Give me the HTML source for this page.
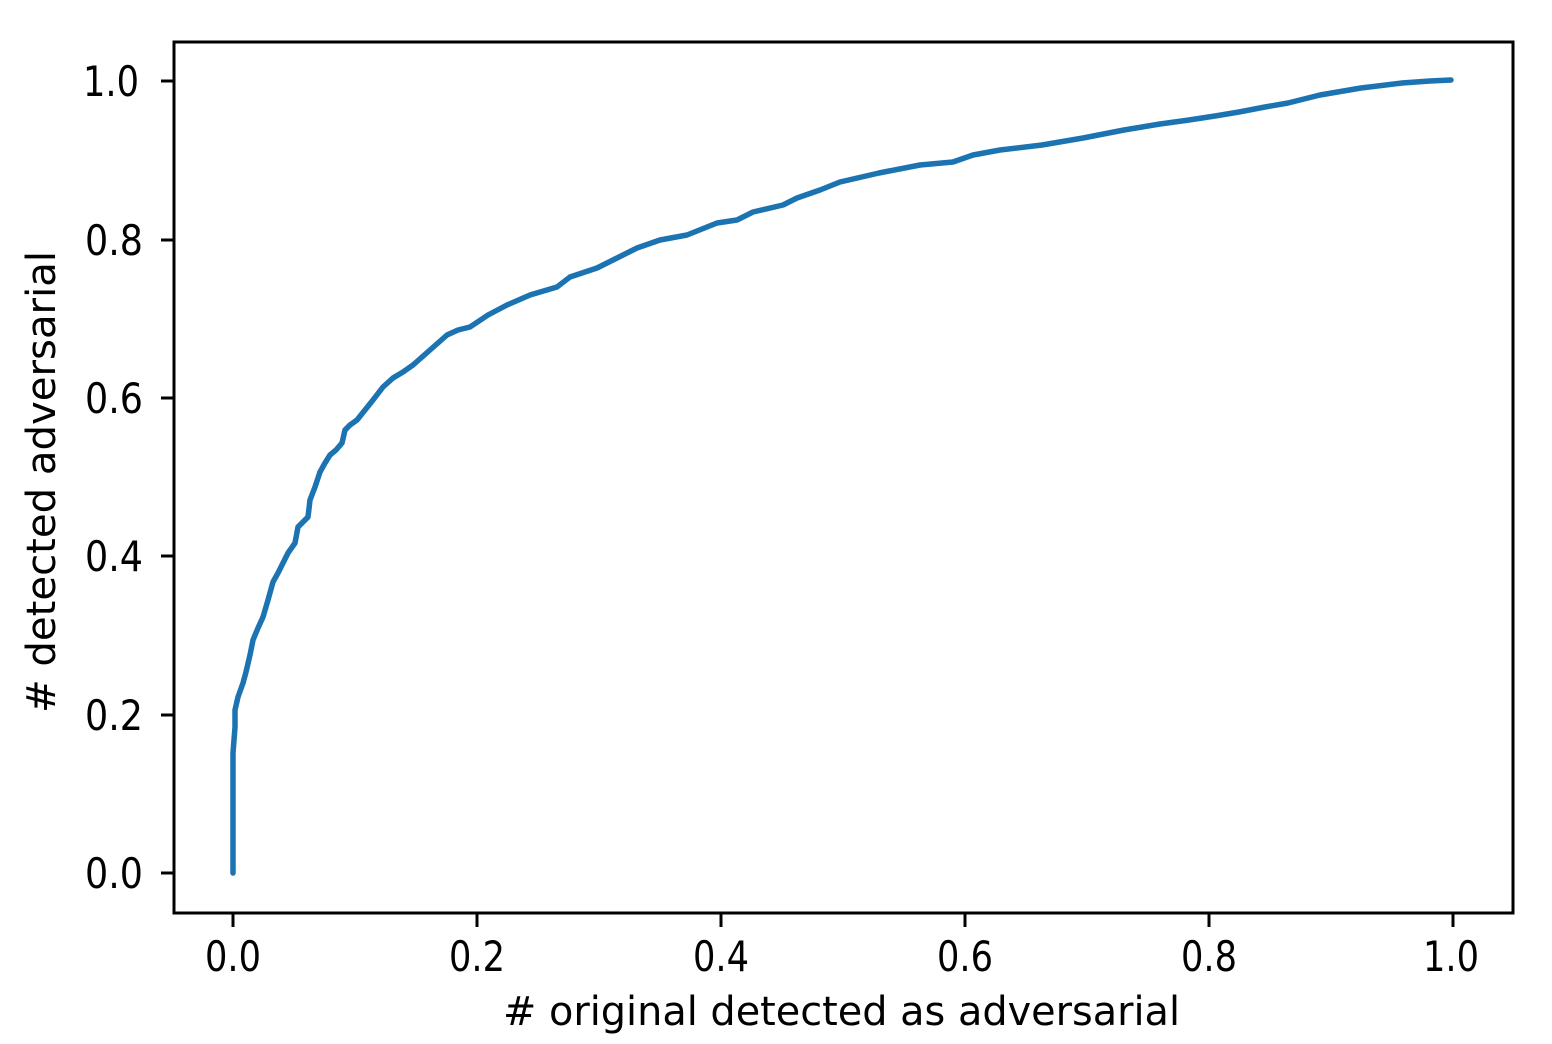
<!DOCTYPE html>
<html>
<head>
<meta charset="utf-8">
<style>
html,body{margin:0;padding:0;background:#fff;}
svg{display:block;}
text{font-family:"DejaVu Sans","Liberation Sans",sans-serif;fill:#000;}
</style>
</head>
<body>
<svg width="1552" height="1044" viewBox="0 0 1552 1044" xmlns="http://www.w3.org/2000/svg">
<rect x="0" y="0" width="1552" height="1044" fill="#fff"/>
<!-- curve -->
<polyline fill="none" stroke="#1c73b2" stroke-width="5.5" stroke-linejoin="round" stroke-linecap="round"
points="233,873 233,753 234,740 235,727 235,710 238,697 243,683 246,672 250,655 253,640 258,628 263,617 268,600 273,582 278,573 282,565 288,553 295,543 298,527 303,522 308,517 310,500 315,487 320,472 325,463 330,455 336,450 342,443 345,430 350,425 357,420 365,410 373,400 383,387 393,378 403,372 413,365 430,350 447,335 458,330 470,327 488,315 507,305 530,295 557,287 570,277 597,268 617,258 637,248 660,240 687,235 717,223 737,220 753,212 783,205 797,198 820,190 840,182 879,173 920,165 953,162 973,155 1000,150 1042,145 1083,138 1124,130 1160,124 1189,120 1215,116 1239,112 1265,107 1288,103 1320,95 1361,88 1402,83 1430,81 1451,80"/>
<!-- axes frame -->
<rect x="174" y="42" width="1339" height="871" fill="none" stroke="#000" stroke-width="3"/>
<!-- ticks -->
<g stroke="#000" stroke-width="3">
<line x1="161" y1="873" x2="174" y2="873"/>
<line x1="161" y1="715" x2="174" y2="715"/>
<line x1="161" y1="556" x2="174" y2="556"/>
<line x1="161" y1="398" x2="174" y2="398"/>
<line x1="161" y1="240" x2="174" y2="240"/>
<line x1="161" y1="81" x2="174" y2="81"/>
<line x1="233" y1="913" x2="233" y2="927"/>
<line x1="477" y1="913" x2="477" y2="927"/>
<line x1="721" y1="913" x2="721" y2="927"/>
<line x1="965" y1="913" x2="965" y2="927"/>
<line x1="1209" y1="913" x2="1209" y2="927"/>
<line x1="1453" y1="913" x2="1453" y2="927"/>
</g>
<!-- y tick labels -->
<g font-size="42">
<text x="85" y="888" textLength="58" lengthAdjust="spacingAndGlyphs">0.0</text>
<text x="85" y="730" textLength="58" lengthAdjust="spacingAndGlyphs">0.2</text>
<text x="85" y="571" textLength="58" lengthAdjust="spacingAndGlyphs">0.4</text>
<text x="85" y="413" textLength="58" lengthAdjust="spacingAndGlyphs">0.6</text>
<text x="85" y="255" textLength="58" lengthAdjust="spacingAndGlyphs">0.8</text>
<text x="83" y="96" textLength="56" lengthAdjust="spacingAndGlyphs">1.0</text>
</g>
<!-- x tick labels -->
<g font-size="42">
<text x="205" y="971" textLength="56" lengthAdjust="spacingAndGlyphs">0.0</text>
<text x="449" y="971" textLength="56" lengthAdjust="spacingAndGlyphs">0.2</text>
<text x="693" y="971" textLength="56" lengthAdjust="spacingAndGlyphs">0.4</text>
<text x="937" y="971" textLength="56" lengthAdjust="spacingAndGlyphs">0.6</text>
<text x="1181" y="971" textLength="56" lengthAdjust="spacingAndGlyphs">0.8</text>
<text x="1423" y="971" textLength="56" lengthAdjust="spacingAndGlyphs">1.0</text>
</g>
<!-- axis labels -->
<text x="503" y="1025" font-size="40" textLength="677" lengthAdjust="spacingAndGlyphs"># original detected as adversarial</text>
<text transform="translate(55,713) rotate(-90)" x="0" y="0" font-size="40" textLength="462" lengthAdjust="spacingAndGlyphs"># detected adversarial</text>
</svg>
</body>
</html>
